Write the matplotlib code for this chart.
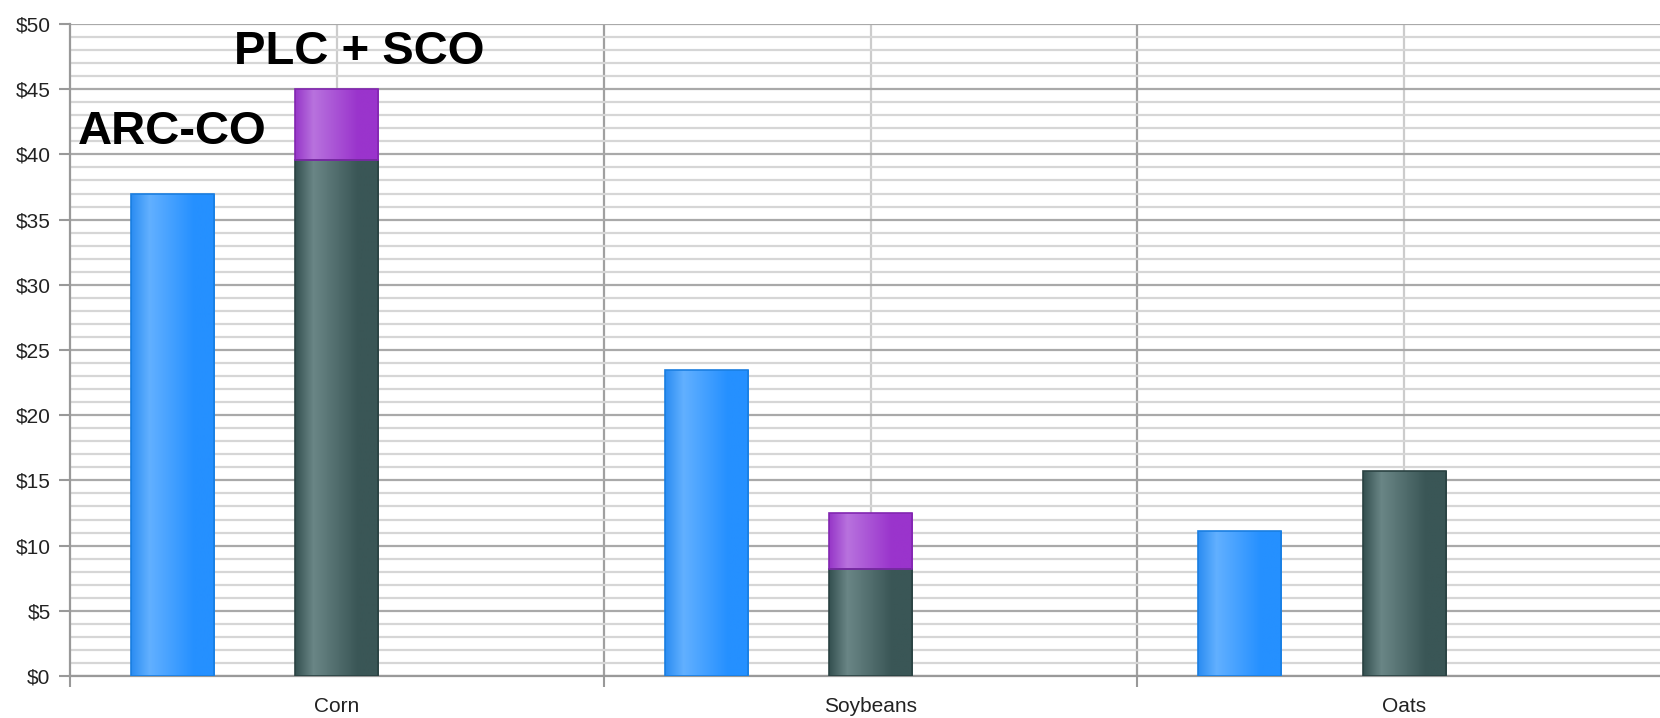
import numpy as np
import matplotlib
matplotlib.use('Agg')
import matplotlib.pyplot as plt
from matplotlib.colors import LinearSegmentedColormap
import matplotlib.ticker as tkr

crops = ['Corn', 'Soybeans', 'Oats']
arc_co = [37.0, 23.5, 11.1]
plc = [39.6, 8.2, 15.7]
sco = [5.4, 4.3, 0.0]

plt.rcParams['font.family'] = ['Liberation Sans', 'DejaVu Sans']

x = np.arange(len(crops))
w = 0.156
off = 0.308

fig = plt.figure(figsize=(16.6, 7.18), dpi=100)
ax = fig.add_axes([70/1660, 1 - 676/718, 1 - 70/1660, (676 - 24)/718])


def shade(base, light, dark):
    # left edge -> highlight -> base on the right, like a cylinder
    return LinearSegmentedColormap.from_list('', [(0, dark), (0.22, light), (0.75, base), (1, base)])


def grad_bars(bars, cmap):
    g = np.linspace(0, 1, 256).reshape(1, -1)
    for b in bars:
        if b.get_height() <= 0:
            b.set_visible(False)
            continue
        x0, y0 = b.get_x(), b.get_y()
        im = ax.imshow(g, cmap=cmap, aspect='auto', interpolation='bilinear',
                       extent=(x0, x0 + b.get_width(), y0, y0 + b.get_height()), zorder=3)
        im.set_clip_path(b)


blue = ax.bar(x - off, arc_co, w, color='#2590ff', edgecolor='#1a7ee0', linewidth=1.2, zorder=2)
green = ax.bar(x, plc, w, color='#345050', edgecolor='#2a4242', linewidth=1.2, zorder=2)
purple = ax.bar(x, sco, w, bottom=plc, color='#9a34cc', edgecolor='#8226b0', linewidth=1.2, zorder=2)

grad_bars(blue, shade('#2590ff', '#62b0ff', '#2a8cf2'))
grad_bars(green, shade('#3a5656', '#6a8686', '#345050'))
grad_bars(purple, shade('#9a34cc', '#b872de', '#9636c8'))
for bars in (blue, green, purple):
    for b in bars:
        b.set_zorder(4)
        b.set_facecolor('none')

ax.set_ylim(0, 50)
ax.set_xlim(-0.5, 2.5 - 11/533.5)

# horizontal grid: $1 minor, $5 major
ax.yaxis.set_major_locator(tkr.MultipleLocator(5))
ax.yaxis.set_minor_locator(tkr.MultipleLocator(1))
ax.yaxis.set_major_formatter(tkr.FuncFormatter(lambda v, pos: '$%d' % v))
ax.grid(which='minor', axis='y', color='#d6d6d6', linewidth=1.6, zorder=0)
ax.grid(which='major', axis='y', color='#a9a9a9', linewidth=1.6, zorder=0)

# category labels at the centres, tick marks on the boundaries
ax.set_xticks(x)
ax.set_xticklabels(crops)
ax.set_xticks(np.arange(len(crops)) - 0.5, minor=True)
ax.tick_params(axis='x', which='major', length=0, pad=15, labelsize=15, labelcolor='#222222')
ax.tick_params(axis='x', which='minor', length=8, width=1.5, color='#999999')
ax.tick_params(axis='y', which='major', length=8, width=1.5, color='#999999', pad=6,
               labelsize=15, labelcolor='#222222')
ax.tick_params(axis='y', which='minor', length=0)
for xc in x:
    ax.axvline(xc, color='#cccccc', linewidth=1.6, zorder=1)
    if xc > 0:
        ax.axvline(xc - 0.5, color='#a0a0a0', linewidth=1.6, zorder=1)

for s in ['right', 'top']:
    ax.spines[s].set_color('none')
for s in ['left', 'bottom']:
    ax.spines[s].set_color('#999999')
    ax.spines[s].set_linewidth(1.6)

ax.text(x[0] - off, 41.7, 'ARC-CO', ha='center', va='center', fontsize=34, fontweight='bold', zorder=5)
ax.text(x[0] + 0.042, 47.85, 'PLC + SCO', ha='center', va='center', fontsize=34, fontweight='bold', zorder=5)

fig.savefig('out.png', dpi=100)
